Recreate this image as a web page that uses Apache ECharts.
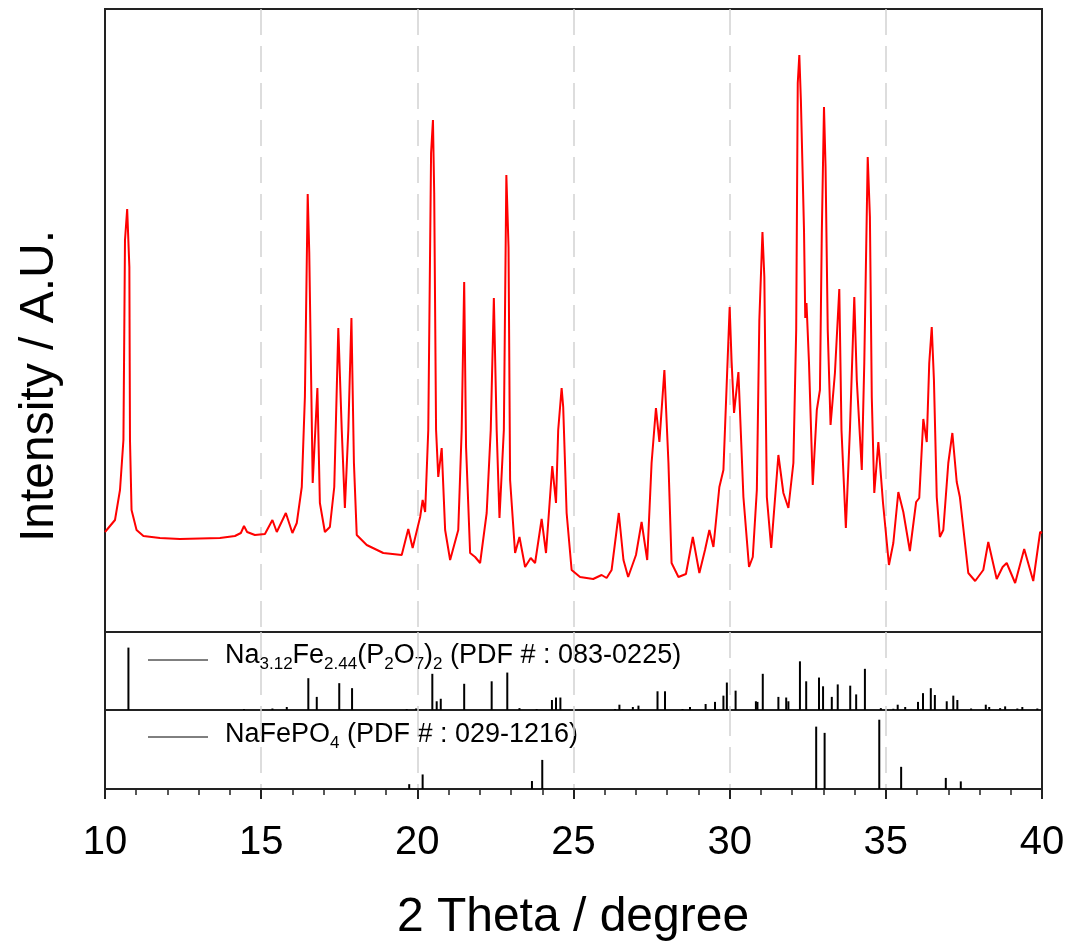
<!DOCTYPE html>
<html>
<head>
<meta charset="utf-8">
<script src="https://cdn.jsdelivr.net/npm/echarts@6/dist/echarts.min.js"></script>
<style>
  html, body { margin: 0; padding: 0; background: #fff; }
  #chart { width: 1072px; height: 950px; }
</style>
</head>
<body>
<div id="chart"></div>
<script>
// measured pattern, [2theta, intensity (a.u.)]
const measured = [
  [10.00,100],[10.32,112],[10.48,142],[10.59,192],[10.64,392],[10.71,423],[10.78,365],[10.80,192],
  [10.85,122],[11.01,102],[11.23,96],[11.76,94],[12.40,93],[13.04,93.5],[13.68,94],[14.16,96],
  [14.35,99],[14.45,106],[14.55,100],[14.80,97],[15.12,98],[15.36,112],[15.50,100],[15.79,119],
  [16.00,99],[16.14,109],[16.30,145],[16.40,235],[16.49,438],[16.54,379],[16.65,149],[16.80,244],
  [16.88,129],[17.04,100],[17.20,105],[17.34,145],[17.47,304],[17.58,202],[17.68,124],[17.79,202],
  [17.89,314],[17.97,169],[18.06,97],[18.38,87],[18.91,79],[19.50,77],[19.71,103],[19.85,84],
  [20.09,115],[20.17,132],[20.25,120],[20.35,202],[20.44,479],[20.50,512],[20.54,439],[20.60,202],
  [20.67,155],[20.78,184],[20.89,102],[21.05,72],[21.31,102],[21.42,202],[21.50,350],[21.56,185],
  [21.69,79],[21.85,75],[22.01,69],[22.22,119],[22.35,202],[22.45,334],[22.54,202],[22.63,114],
  [22.77,202],[22.85,457],[22.92,385],[22.97,152],[23.13,79],[23.27,95],[23.45,65],[23.63,74],
  [23.77,69],[23.98,113],[24.12,79],[24.32,166],[24.44,129],[24.51,202],[24.62,244],[24.67,225],
  [24.78,119],[24.94,62],[25.21,55],[25.63,53],[25.90,57],[26.06,54],[26.22,62],[26.45,119],
  [26.60,72],[26.75,55],[27.00,77],[27.18,110],[27.36,72],[27.50,169],[27.64,224],[27.75,190],
  [27.91,262],[28.04,169],[28.14,69],[28.36,55],[28.60,58],[28.82,95],[29.03,59],[29.21,82],
  [29.35,102],[29.48,85],[29.67,145],[29.80,162],[29.91,252],[30.00,325],[30.06,272],[30.14,219],
  [30.28,260],[30.44,135],[30.62,65],[30.74,75],[30.87,142],[30.95,312],[31.05,400],[31.11,355],
  [31.19,135],[31.33,84],[31.56,177],[31.72,139],[31.88,124],[32.04,169],[32.13,302],[32.18,549],
  [32.23,577],[32.28,532],[32.38,402],[32.42,314],[32.46,329],[32.54,269],[32.66,147],[32.79,222],
  [32.89,242],[32.95,399],[33.02,525],[33.07,465],[33.14,302],[33.23,207],[33.37,259],[33.51,343],
  [33.58,202],[33.72,104],[33.85,202],[33.99,335],[34.07,252],[34.23,162],[34.31,269],[34.42,475],
  [34.49,415],[34.55,235],[34.63,139],[34.76,190],[34.91,129],[35.10,67],[35.24,89],[35.40,140],
  [35.56,120],[35.77,81],[35.97,130],[36.07,134],[36.20,213],[36.31,190],[36.39,269],[36.47,305],
  [36.54,252],[36.63,135],[36.73,95],[36.84,102],[37.00,169],[37.13,199],[37.27,150],[37.37,135],
  [37.64,59],[37.86,51],[38.12,62],[38.28,90],[38.55,53],[38.74,65],[38.87,69],[39.14,49],
  [39.43,83],[39.72,51],[39.94,100],[40.00,99]
]

// PDF 083-0225 reference lines
const pdfAPos = [10.75,14.45,15.36,15.82,16.51,16.78,17.50,17.91,19.66,19.96,20.48,20.62,20.75,21.50,
  22.38,22.88,23.27,23.82,24.31,24.44,24.58,26.33,26.47,26.90,27.08,27.69,27.93,28.49,28.73,29.23,
  29.53,29.80,29.91,30.19,30.84,30.89,31.06,31.56,31.81,31.88,32.25,32.45,32.86,32.99,33.27,33.46,
  33.86,34.05,34.33,34.84,35.24,35.38,35.62,36.03,36.19,36.44,36.57,36.95,37.16,37.29,37.73,38.20,
  38.31,38.66,38.82,39.21,39.37,39.85]
const pdfAInt = [100,1.6,2.4,4.8,51,21,43,35,1.6,2.4,58,14,18,42,
  46,60,3,1.6,16,20,20,1.6,8.5,4.8,7,30,30,1.6,4.8,9.6,
  13,23,44,31,14,13,58,21,20,14,78,46,52,38,21,41,
  39,25,66,3,2,8.5,4.8,13,27,35,24,14,23,16,2.4,8.5,
  4.8,3,5.8,2.4,4.8,2.4]

// PDF 029-1216 reference lines
const pdfBPos = [19.74,20.17,23.67,24.00,32.77,33.04,34.79,35.49,36.92,37.40]
const pdfBInt = [7,21,11.5,42,90,81,100,32,16,11]

const xTicks = { min: 10, max: 40, interval: 5 }

const FONT = '"Liberation Sans", Arial, sans-serif'
const dash = { color: '#d2d2d2', width: 1.5, type: [26, 11] }

const chart = echarts.init(document.getElementById('chart'))

const xAxisBase = (gridIndex, withLabels) => ({
  type: 'value',
  gridIndex,
  min: xTicks.min,
  max: xTicks.max,
  interval: xTicks.interval,
  axisLine: { show: withLabels, onZero: false, lineStyle: { color: '#222', width: 2 } },
  axisTick: { show: withLabels, length: 10, lineStyle: { color: '#222', width: 2 } },
  minorTick: { show: withLabels, splitNumber: 5, length: 6, lineStyle: { color: '#222', width: 1.5 } },
  axisLabel: { show: withLabels, fontSize: 40, color: '#000', fontFamily: FONT, margin: 34 },
  splitLine: { show: true, showMinLine: false, showMaxLine: false, lineStyle: dash }
})

const sticks = (pos, val) => pos.map((p, i) => [p, val[i]])

const legendRich = {
  m: { fontSize: 27, fontFamily: FONT, lineHeight: 34, verticalAlign: 'middle', fill: '#000' },
  s: { fontSize: 17, fontFamily: FONT, lineHeight: 14, verticalAlign: 'bottom', fill: '#000' }
}

const option = {
  animation: false,
  backgroundColor: '#fff',
  grid: [
    { left: 105, width: 937, top: 9, height: 623, show: true, borderColor: '#222', borderWidth: 2 },
    { left: 105, width: 937, top: 632, height: 78, show: true, borderColor: '#222', borderWidth: 2 },
    { left: 105, width: 937, top: 710, height: 79, show: true, borderColor: '#222', borderWidth: 2 }
  ],
  xAxis: [xAxisBase(0, false), xAxisBase(1, false), xAxisBase(2, true)],
  yAxis: [
    { type: 'value', gridIndex: 0, min: 0, max: 623, show: false },
    { type: 'value', gridIndex: 1, min: 0, max: 125, show: false },
    { type: 'value', gridIndex: 2, min: 0, max: 114, show: false }
  ],
  series: [
    {
      type: 'line',
      xAxisIndex: 0,
      yAxisIndex: 0,
      data: measured,
      showSymbol: false,
      lineStyle: { color: '#ff0000', width: 2 },
      z: 3
    },
    {
      type: 'bar',
      xAxisIndex: 1,
      yAxisIndex: 1,
      data: sticks(pdfAPos, pdfAInt),
      barWidth: 2,
      itemStyle: { color: '#000' }
    },
    {
      type: 'bar',
      xAxisIndex: 2,
      yAxisIndex: 2,
      data: sticks(pdfBPos, pdfBInt),
      barWidth: 2,
      itemStyle: { color: '#000' }
    }
  ],
  graphic: [
    {
      type: 'text',
      x: 40,
      y: 386,
      rotation: Math.PI / 2,
      style: {
        text: 'Intensity / A.U.',
        fontSize: 48,
        fontFamily: FONT,
        fill: '#000',
        align: 'center',
        verticalAlign: 'middle'
      }
    },
    {
      type: 'text',
      x: 573,
      y: 918,
      style: {
        text: '2 Theta / degree',
        fontSize: 48,
        fontFamily: FONT,
        fill: '#000',
        align: 'center',
        verticalAlign: 'middle'
      }
    },
    {
      type: 'line',
      shape: { x1: 148, y1: 660, x2: 208, y2: 660 },
      style: { stroke: '#000', lineWidth: 1 }
    },
    {
      type: 'text',
      x: 225,
      y: 656,
      style: {
        text: '{m|Na}{s|3.12}{m|Fe}{s|2.44}{m|(P}{s|2}{m|O}{s|7}{m|)}{s|2}{m| (PDF # : 083-0225)}',
        rich: legendRich,
        align: 'left',
        verticalAlign: 'middle'
      }
    },
    {
      type: 'line',
      shape: { x1: 148, y1: 737, x2: 208, y2: 737 },
      style: { stroke: '#000', lineWidth: 1 }
    },
    {
      type: 'text',
      x: 225,
      y: 735,
      style: {
        text: '{m|NaFePO}{s|4}{m| (PDF # : 029-1216)}',
        rich: legendRich,
        align: 'left',
        verticalAlign: 'middle'
      }
    }
  ]
}

chart.setOption(option)
</script>
</body>
</html>
